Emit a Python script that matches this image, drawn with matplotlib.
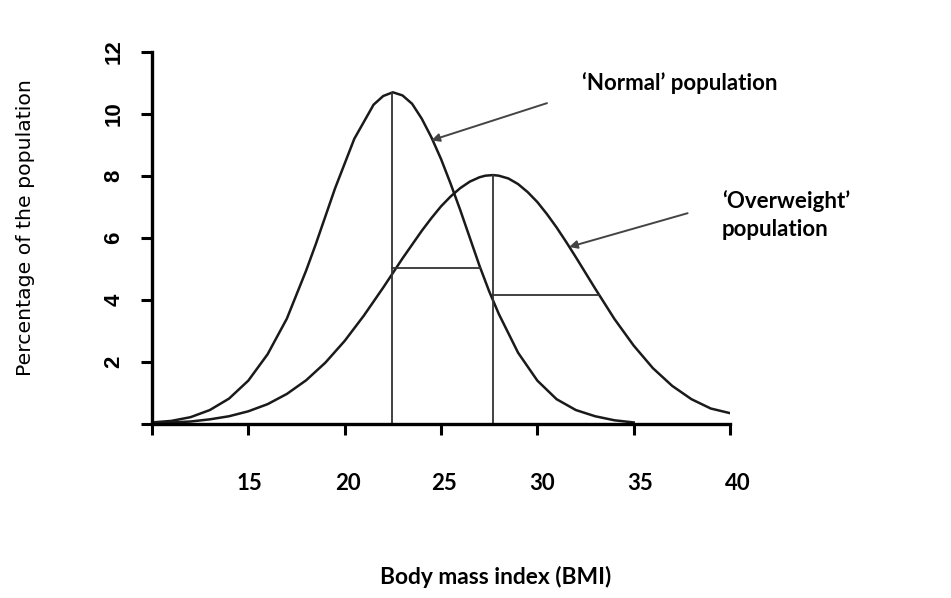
''' BMI distribution of a normal and an overweight population

'''

import numpy as np
import matplotlib.pyplot as plt

# values
normal_bmi = [10, 11, 12, 13, 14, 15, 16, 17, 18, 18.5, 19, 19.5, 20, 20.5,
              21, 21.5, 22, 22.5, 23, 23.5, 24, 24.5, 25, 25.5, 26, 26.5,
              27, 27.5, 28, 29, 30, 31, 32, 33, 34, 35]
normal_pct = [0.05, 0.10, 0.22, 0.45, 0.82, 1.40, 2.25, 3.40, 4.95, 5.80,
              6.70, 7.60, 8.40, 9.20, 9.75, 10.30, 10.58, 10.70, 10.60,
              10.33, 9.85, 9.25, 8.55, 7.75, 6.90, 6.00, 5.10, 4.28, 3.55,
              2.30, 1.40, 0.80, 0.45, 0.25, 0.12, 0.05]

over_bmi = [10, 11, 12, 13, 14, 15, 16, 17, 18, 19, 20, 21, 22, 23, 24,
            24.5, 25, 25.5, 26, 26.5, 27, 27.3, 27.7, 28, 28.5, 29, 29.5,
            30, 30.5, 31, 31.5, 32, 33, 34, 35, 36, 37, 38, 39, 40]
over_pct = [0.02, 0.05, 0.08, 0.15, 0.25, 0.41, 0.64, 0.97, 1.41, 1.98,
            2.68, 3.50, 4.40, 5.34, 6.23, 6.64, 7.02, 7.34, 7.61, 7.82,
            7.96, 8.01, 8.03, 8.01, 7.92, 7.74, 7.48, 7.16, 6.77, 6.34,
            5.87, 5.38, 4.37, 3.39, 2.53, 1.80, 1.23, 0.80, 0.50, 0.35]

# peak markers and the horizontal guides
normal_peak = (22.47, 10.68)
over_peak = (27.7, 8.03)
guide_normal = (22.47, 27.0, 5.03)   # x start, x end, height
guide_over = (27.7, 33.2, 4.16)

x_ticks = [10, 15, 20, 25, 30, 35, 40]
x_labels = ['', '15', '20', '25', '30', '35', '40']
y_ticks = [0, 2, 4, 6, 8, 10, 12]
y_labels = ['', '2', '4', '6', '8', '10', '12']

fig = plt.figure(figsize=(9.51, 5.98), dpi=100)
ax = fig.add_axes([152/951, 174/598, 578/951, 372/598])

ax.plot(normal_bmi, normal_pct, color='#1a1a1a', lw=1.8)
ax.plot(over_bmi, over_pct, color='#1a1a1a', lw=1.8)

for px, py in (normal_peak, over_peak):
    ax.plot([px, px], [0, py], color='#333333', lw=1.3)
for x0, x1, h in (guide_normal, guide_over):
    ax.plot([x0, x1], [h, h], color='#333333', lw=1.3)

ax.set_xlim(10, 40)
ax.set_ylim(0, 12)
for s in ['top', 'right']:
    ax.spines[s].set_visible(False)
for s in ['left', 'bottom']:
    ax.spines[s].set_linewidth(2.4)

ax.set_xticks(x_ticks)
ax.set_xticklabels(x_labels, fontfamily='Lato', fontweight='bold', fontsize=16)
ax.set_yticks(y_ticks)
ax.set_yticklabels(y_labels, fontfamily='Liberation Sans', fontweight='bold',
                   fontsize=16, rotation=90, va='center')
ax.tick_params(axis='x', length=8, width=2.2, pad=27)
ax.tick_params(axis='y', length=8, width=2.2, pad=12)
for lab, dx in zip(ax.get_xticklabels(), [0, 1, 3, 3, 5, 6, 8]):
    lab.set_x(lab.get_position()[0])
    lab.set_transform(lab.get_transform() +
                      plt.matplotlib.transforms.ScaledTranslation(dx/100, 0, fig.dpi_scale_trans))

# arrows pointing to the curves
ax.annotate('', xy=(24.5, 9.15), xytext=(30.5, 10.35),
            arrowprops=dict(arrowstyle='-|>', color='#444444', lw=1.4,
                            mutation_scale=12, shrinkA=0, shrinkB=0))
ax.annotate('', xy=(31.65, 5.71), xytext=(37.8, 6.8),
            arrowprops=dict(arrowstyle='-|>', color='#444444', lw=1.4,
                            mutation_scale=12, shrinkA=0, shrinkB=0))

fig.text(582/951, 1 - 83/598, '\u2018Normal\u2019 population', fontfamily='Lato',
         fontweight='bold', fontsize=16, va='center', ha='left')
fig.text(722/951, 1 - 201/598, '\u2018Overweight\u2019', fontfamily='Lato',
         fontweight='bold', fontsize=16, va='center', ha='left')
fig.text(722/951, 1 - 230/598, 'population', fontfamily='Lato',
         fontweight='bold', fontsize=16, va='center', ha='left')

fig.text(496/951, 1 - 577/598, 'Body mass index (BMI)', fontfamily='Lato',
         fontweight='bold', fontsize=16.4, va='center', ha='center')
fig.text(26/951, 1 - 228/598, 'Percentage of the population',
         fontfamily='DejaVu Sans', fontsize=14.7, rotation=90,
         va='center', ha='center')

fig.savefig('out.png', dpi=100)
